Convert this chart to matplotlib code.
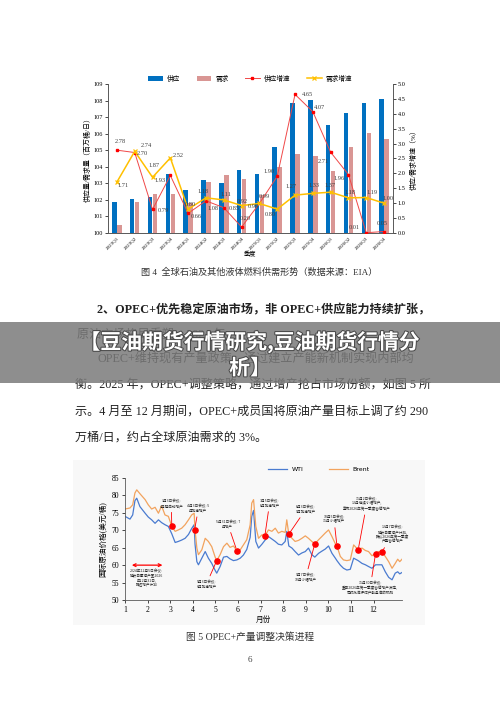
import numpy as np
import matplotlib
matplotlib.use('Agg')
import matplotlib.pyplot as plt
import matplotlib.patheffects as pe
from matplotlib.patches import Rectangle

plt.rcParams['font.family'] = ['Liberation Serif', 'Noto Sans CJK SC', 'DejaVu Sans']

# ---- figure 4: global supply / demand (EIA) ----
quarters = ['2023Q1', '2023Q2', '2023Q3', '2023Q4', '2024Q1', '2024Q2', '2024Q3', '2024Q4',
            '2025Q1', '2025Q2', '2025Q3', '2025Q4', '2026Q1', '2026Q2', '2026Q3', '2026Q4']
supply = [101.90, 102.05, 102.17, 103.57, 102.57, 103.19, 103.03, 103.80,
          103.59, 105.18, 107.87, 108.03, 106.50, 107.27, 107.87, 108.07]
demand = [100.50, 101.89, 102.33, 102.33, 101.80, 103.09, 103.49, 103.27,
          102.31, 103.98, 104.78, 104.66, 103.76, 105.18, 106.04, 105.70]
supply_growth = [2.78, 2.70, 0.79, 1.93, 0.66, 1.08, 0.85, 0.20,
                 0.99, 1.90, 4.65, 4.07, 2.71, 1.96, 0.01, 0.05]
demand_growth = [1.71, 2.74, 1.87, 2.52, 0.80, 1.18, 1.11, 0.92,
                 0.99, 0.80, 1.27, 1.33, 1.37, 1.18, 1.19, 1.00]

# label offsets (pixels) for the growth data labels
sg_off = [(3, 9), (8, -1), (11, -1), (-10, -5), (8, -3), (7, -8), (10, -1), (4, 9),
          (-6, -3), (-8, 5), (12, 0), (7, 4), (-7, -9), (-9, -4), (-12, 5), (-2, 8)]
dg_off = [(6, -3), (12, 6), (2, 12), (8, 2), (2, 5), (-3, 6), (2, 5), (1, 4),
          (5, 7), (-7, -5), (-4, 9), (1, 8), (-1, 7), (2, 5), (6, 5), (4, 5)]

# ---- figure 5: WTI / Brent 2025 ----
months = [1.00, 1.22, 1.34, 1.44, 1.52, 1.66, 1.89, 2.03, 2.18, 2.33,
          2.48, 2.62, 2.77, 2.92, 3.07, 3.22, 3.36, 3.51, 3.66, 3.81,
          3.95, 4.06, 4.10, 4.18, 4.25, 4.40, 4.55, 4.69, 4.84, 4.99,
          5.06, 5.21, 5.36, 5.51, 5.65, 5.80, 5.95, 6.10, 6.24, 6.39,
          6.54, 6.61, 6.69, 6.79, 6.91, 7.06, 7.19, 7.35, 7.50, 7.65,
          7.79, 7.94, 8.09, 8.16, 8.25, 8.39, 8.53, 8.68, 8.83, 8.98,
          9.12, 9.27, 9.40, 9.57, 9.71, 9.86, 10.01, 10.16, 10.31, 10.38,
          10.53, 10.67, 10.82, 10.97, 11.12, 11.32, 11.49, 11.64, 11.78, 11.93,
          12.09, 12.23, 12.37, 12.52, 12.67, 12.82, 12.96, 13.07, 13.16, 13.26]
brent = [76.1, 76.4, 77.3, 80.7, 81.6, 80.5, 78.8, 77.3, 76.1, 76.6,
         74.9, 77.0, 74.4, 74.0, 71.1, 69.7, 70.1, 70.6, 71.6, 73.0,
         74.4, 74.9, 70.1, 64.9, 63.0, 64.4, 67.7, 66.8, 65.3, 62.3,
         61.3, 63.0, 65.3, 66.3, 65.1, 65.5, 64.2, 64.4, 65.8, 67.3,
         71.6, 77.8, 78.8, 71.1, 67.7, 68.7, 68.4, 70.1, 69.7, 70.6,
         69.2, 69.7, 69.4, 73.0, 68.9, 67.7, 66.8, 67.1, 67.7, 68.4,
         67.7, 66.8, 66.1, 67.3, 68.2, 69.2, 70.1, 68.2, 66.1, 65.5,
         62.5, 61.5, 61.3, 61.5, 65.8, 64.4, 64.9, 64.2, 63.9, 62.7,
         63.3, 63.9, 63.8, 62.5, 61.0, 59.1, 60.5, 61.7, 61.0, 61.7]
wti = [74.0, 73.2, 74.4, 78.5, 79.2, 76.8, 74.9, 73.8, 73.0, 72.0,
       73.0, 72.2, 71.6, 71.1, 69.0, 66.5, 66.8, 67.2, 67.7, 68.8,
       70.5, 71.6, 66.0, 61.0, 60.1, 62.0, 63.9, 62.0, 60.5, 58.5,
       57.7, 59.6, 62.3, 62.5, 61.8, 61.3, 61.5, 62.0, 62.9, 64.5,
       68.0, 74.0, 75.7, 66.8, 64.9, 66.0, 67.1, 68.2, 67.5, 66.8,
       66.0, 65.8, 66.8, 69.7, 65.5, 64.9, 63.9, 62.9, 63.5, 63.9,
       64.9, 63.0, 62.3, 63.4, 64.0, 64.6, 65.5, 63.4, 62.0, 61.3,
       60.0, 59.1, 58.6, 58.8, 62.0, 61.3, 60.5, 60.1, 59.6, 59.1,
       60.1, 60.1, 60.1, 58.1, 56.5, 55.8, 57.7, 58.1, 57.5, 57.9]

meet_x = [3.07, 4.08, 5.06, 5.95, 7.19, 8.25, 9.40, 10.38, 11.32, 12.09, 12.37]
meet_price = [71.1, 70.1, 61.3, 64.2, 68.4, 68.9, 66.1, 65.5, 64.4, 63.3, 63.8]
meet_text = ['3月3日会议:\n4月起启动增产', '4月3日会议: 5\n月加速增产', '5月3日会议:\n6月加速增产',
             '5月31日会议: 7\n月增产', '7月5日会议:\n8月加速增产', '8月3日会议:\n9月加速增产',
             '9月7日会议:\n10月小幅增产', '10月5日会议:\n11月小幅增产',
             '11月2日会议:\n12月继续小幅增产,\n宣布2026年第一季度暂停增产',
             '11月30日会议:\n重申2026年第一季度暂停增产决定,\n同时批准评估产能基准的机制',
             '12月7日会议:\n延长自愿减产计划,\n确认2026年第一季度\n产量暂停增产']
meet_text_pos = [(3.05, 77.6), (4.25, 76.3), (4.6, 54.5), (5.55, 71.8), (7.4, 77.8), (9.0, 76.0),
                 (9.0, 56.5), (10.25, 73.2), (11.7, 77.6), (11.85, 53.5), (12.85, 68.8)]

W, H = 500, 707


def box(x0, y0, x1, y1):
    return [x0 / W, 1 - y1 / H, (x1 - x0) / W, (y1 - y0) / H]


def ftext(x, y, s, **kw):
    fig.text(x / W, 1 - y / H, s, va='center', **kw)


fig = plt.figure(figsize=(5, 7.07), dpi=100)
fig.patch.set_facecolor('white')

# ===== chart 1 =====
ax1 = fig.add_axes(box(108, 84, 393, 233))
x = np.arange(len(quarters))
b1 = ax1.bar(x - 0.14, supply, 0.25, color='#0070C0', label='供应', zorder=2)
b2 = ax1.bar(x + 0.14, demand, 0.25, color='#D99694', label='需求', zorder=2)
ax1.set_ylim(100, 109)
ax1.set_xlim(-0.5, 15.5)
ax1.set_yticks(range(100, 110))
ax1.set_xticks(x)
ax1.set_xticklabels(quarters, rotation=45, ha='right', rotation_mode='anchor', fontsize=3.6)
ax1.tick_params(axis='y', labelsize=4.5, length=2, width=0.5, pad=1.5)
ax1.tick_params(axis='x', length=0, pad=2)
ax1.set_ylabel('供应量/需求量（百万桶/日）', fontsize=5, labelpad=2)
ax1.set_xlabel('季度', fontsize=4.5, labelpad=1)

ax2 = ax1.twinx()
l1, = ax2.plot(x, supply_growth, color='#F04848', lw=0.7, marker='s', ms=2, mfc='#FF0000',
               mec='#FF0000', label='供应增速', zorder=3)
l2, = ax2.plot(x, demand_growth, color='#FFC000', lw=1.1, marker='x', ms=3.5, mew=0.9,
               label='需求增速', zorder=3)
ax2.set_ylim(0, 5)
ax2.set_yticks(np.arange(0, 5.01, 0.5))
ax2.set_yticklabels(['%.1f' % v for v in np.arange(0, 5.01, 0.5)])
ax2.tick_params(axis='y', labelsize=4.5, length=2, width=0.5, pad=1.5)
ax2.set_ylabel('供应/需求增速（%）', fontsize=5, labelpad=3)

for a in (ax1, ax2):
    a.spines['top'].set_visible(False)
    for s in ('left', 'right', 'bottom'):
        a.spines[s].set_color('#595959')
        a.spines[s].set_linewidth(0.6)

for i in range(len(quarters)):
    ax2.annotate('%.2f' % supply_growth[i], (x[i], supply_growth[i]), xytext=sg_off[i],
                 textcoords='offset pixels', fontsize=4.6, color='#404040', ha='center', va='center')
    ax2.annotate('%.2f' % demand_growth[i], (x[i], demand_growth[i]), xytext=dg_off[i],
                 textcoords='offset pixels', fontsize=4.6, color='#404040', ha='center', va='center')

fig.legend(handles=[b1, b2, l1, l2], loc='center', bbox_to_anchor=(250 / W, 1 - 78 / H), ncol=4,
           fontsize=4.8, frameon=False, handlelength=2.2, columnspacing=2.5, handletextpad=0.6)

ftext(259, 272, '图 4  全球石油及其他液体燃料供需形势（数据来源：EIA）', ha='center', fontsize=6.6,
      color='#333333')

# ===== body text =====
body_kw = dict(fontsize=8.7, color='#222222')
ftext(97, 310, '2、OPEC+优先稳定原油市场，非 OPEC+供应能力持续扩张，', fontweight='bold', **body_kw)
ftext(77, 335, '原油市场格局重塑。2024 年，', **body_kw)
ftext(97, 360, 'OPEC+维持现有产量政策，通过建立产能新机制实现内部均', **body_kw)
ftext(75, 386, '衡。2025 年，OPEC+调整策略，通过增产抢占市场份额，如图 5 所', **body_kw)
ftext(75, 412, '示。4 月至 12 月期间，OPEC+成员国将原油产量目标上调了约 290', **body_kw)
ftext(75, 438, '万桶/日，约占全球原油需求的 3%。', **body_kw)

# ===== chart 2 =====
fig.patches.append(Rectangle((73 / W, 1 - 625 / H), 352 / W, 165 / H, transform=fig.transFigure,
                             facecolor='#f8f8f8', edgecolor='none', zorder=-1))
ax3 = fig.add_axes(box(125, 478, 402, 600))
ax3.set_zorder(2)
ax3.set_facecolor('none')
ax3.plot(months, wti, color='#4A7BD0', lw=0.9, label='WTI')
ax3.plot(months, brent, color='#F2A35E', lw=0.9, label='Brent')
ax3.scatter(meet_x, meet_price, s=14, color='#FF0000', zorder=5)
for mx, my, t, (tx, ty) in zip(meet_x, meet_price, meet_text, meet_text_pos):
    ax3.annotate(t, (mx, my), xytext=(tx, ty), fontsize=2.6, ha='center', va='center',
                 family=['Noto Sans CJK SC'], color='#222222',
                 arrowprops=dict(arrowstyle='-', color='#FF0000', lw=0.6, shrinkA=1, shrinkB=2))
ax3.annotate('', xy=(1.18, 60), xytext=(2.78, 60),
             arrowprops=dict(arrowstyle='<->', color='#FF0000', lw=0.9, mutation_scale=5))
ax3.text(1.95, 56.2, '2024年12月5日会议:\n延长自愿减产至2026\n年12月31日,\n推迟增产计划', fontsize=2.6,
         ha='center', va='center', family=['Noto Sans CJK SC'], color='#222222')
ax3.set_xlim(1, 13.26)
ax3.set_ylim(50, 85)
ax3.set_xticks(range(1, 13))
ax3.set_yticks(range(50, 86, 5))
ax3.tick_params(labelsize=5.5, length=2, width=0.5, pad=2)
for s in ('top', 'right'):
    ax3.spines[s].set_visible(False)
for s in ('left', 'bottom'):
    ax3.spines[s].set_color('#595959')
    ax3.spines[s].set_linewidth(0.6)
ax3.set_ylabel('国际原油价格(美元/桶)', fontsize=5.5, labelpad=3)
ax3.set_xlabel('月份', fontsize=5.5, labelpad=2)
ax3.legend(loc='center', bbox_to_anchor=(0.7, 1.07), ncol=2, frameon=False,
           handlelength=3, columnspacing=4, prop={'family': ['DejaVu Sans'], 'size': 4.5})

ftext(250, 637, '图 5 OPEC+产量调整决策进程', ha='center', fontsize=7, color='#333333')
ftext(250, 660, '6', ha='center', fontsize=6.5, color='#444444')

# ===== overlay banner =====
fig.patches.append(Rectangle((0, 1 - 383 / H), 1, 61 / H, transform=fig.transFigure,
                             facecolor='#7a7a7a', alpha=0.85, edgecolor='none', zorder=10))
shadow = [pe.withStroke(linewidth=1.5, foreground='#4a4a4a')]
fig.text(0.5, 1 - 342 / H, '【豆油期货行情研究,豆油期货行情分', ha='center', va='center', fontsize=15,
         fontweight='bold', color='white', family=['Noto Sans CJK SC'], zorder=11, path_effects=shadow)
fig.text(0.5, 1 - 368 / H, '析】', ha='center', va='center', fontsize=15,
         fontweight='bold', color='white', family=['Noto Sans CJK SC'], zorder=11, path_effects=shadow)

fig.savefig('out.png', dpi=100, facecolor='white')
